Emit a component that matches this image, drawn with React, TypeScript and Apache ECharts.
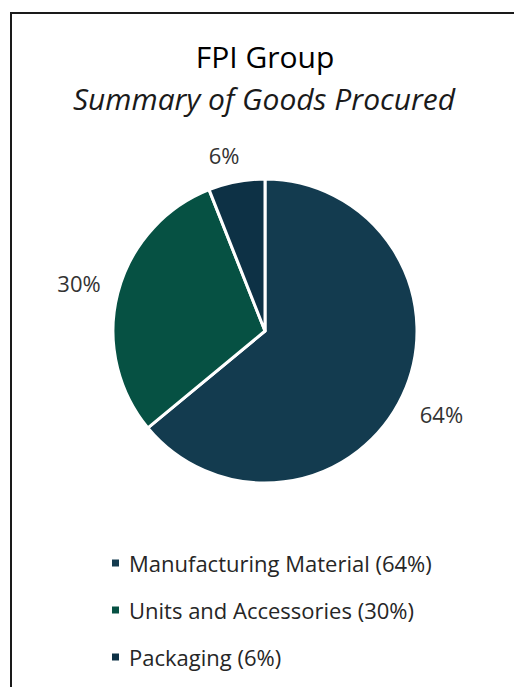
import React, { useEffect, useRef } from "react";
import * as echarts from "echarts";

const TITLE = "FPI Group";
const SUBTITLE = "Summary of Goods Procured";
const categories = ["Manufacturing Material", "Units and Accessories", "Packaging"];
const shares = [64, 30, 6];
const colors = ["#133B4F", "#065143", "#0D3145"];

const FONT = "'Open Sans', 'Noto Sans', sans-serif";
const CX = 265;
const CY = 331;
const R = 152;
// label distance beyond the rim and small nudges (style, not data)
const LABEL_GAP = [43, 40, 29];
const LABEL_NUDGE: [number, number][] = [[0, 0], [0, 0], [-7, 2]];

export default function App() {
  const ref = useRef<HTMLDivElement>(null);
  useEffect(() => {
    if (!ref.current) return;
    const chart = echarts.init(ref.current, undefined, { renderer: "svg" });
    const total = shares.reduce((a, b) => a + b, 0);
    const option = {
      animation: false,
      backgroundColor: "#ffffff",
      graphic: [
        {
          type: "rect",
          shape: { x: 11, y: 13, width: 700, height: 900 },
          style: { fill: "none", stroke: "#1a1a1a", lineWidth: 2 },
          silent: true,
        },
        {
          type: "text",
          x: 265,
          y: 56,
          style: {
            text: TITLE,
            font: `30px ${FONT}`,
            fill: "#000000",
            align: "center",
            verticalAlign: "middle",
          },
        },
        {
          type: "text",
          x: 264,
          y: 98,
          style: {
            text: SUBTITLE,
            font: `italic 30px ${FONT}`,
            fill: "#1a1a1a",
            align: "center",
            verticalAlign: "middle",
          },
        },
      ],
      legend: {
        orient: "vertical",
        left: 105,
        top: 547,
        icon: "rect",
        itemWidth: 9,
        itemHeight: 9,
        itemGap: 25,
        selectedMode: false,
        formatter: (name: string) => {
          const i = categories.indexOf(name);
          return `${name} (${shares[i]}%)`;
        },
        textStyle: {
          fontFamily: FONT,
          fontSize: 22,
          color: "#262626",
          padding: [0, 0, 0, 4],
        },
        data: categories,
      },
      series: [
        {
          type: "pie",
          center: [CX, CY],
          radius: R,
          startAngle: 90,
          clockwise: true,
          avoidLabelOverlap: false,
          itemStyle: { borderColor: "#ffffff", borderWidth: 3 },
          label: {
            show: true,
            position: "outside",
            formatter: "{c}%",
            fontFamily: FONT,
            fontSize: 22,
            color: "#333333",
          },
          labelLine: { show: false },
          labelLayout: (params: any) => {
            const i = params.dataIndex;
            let before = 0;
            for (let k = 0; k < i; k++) before += shares[k];
            const mid = ((before + shares[i] / 2) / total) * Math.PI * 2;
            const d = R + LABEL_GAP[i];
            return {
              x: CX + d * Math.sin(mid) + LABEL_NUDGE[i][0],
              y: CY - d * Math.cos(mid) + LABEL_NUDGE[i][1],
              align: "center",
              verticalAlign: "middle",
            };
          },
          emphasis: { disabled: true },
          data: categories.map((name, i) => ({
            name,
            value: shares[i],
            itemStyle: { color: colors[i] },
          })),
        },
      ],
    };
    chart.setOption(option as any);
    return () => chart.dispose();
  }, []);
  return (
    <div
      ref={ref}
      style={{ position: "fixed", left: 0, top: 0, width: 514, height: 687 }}
    />
  );
}
